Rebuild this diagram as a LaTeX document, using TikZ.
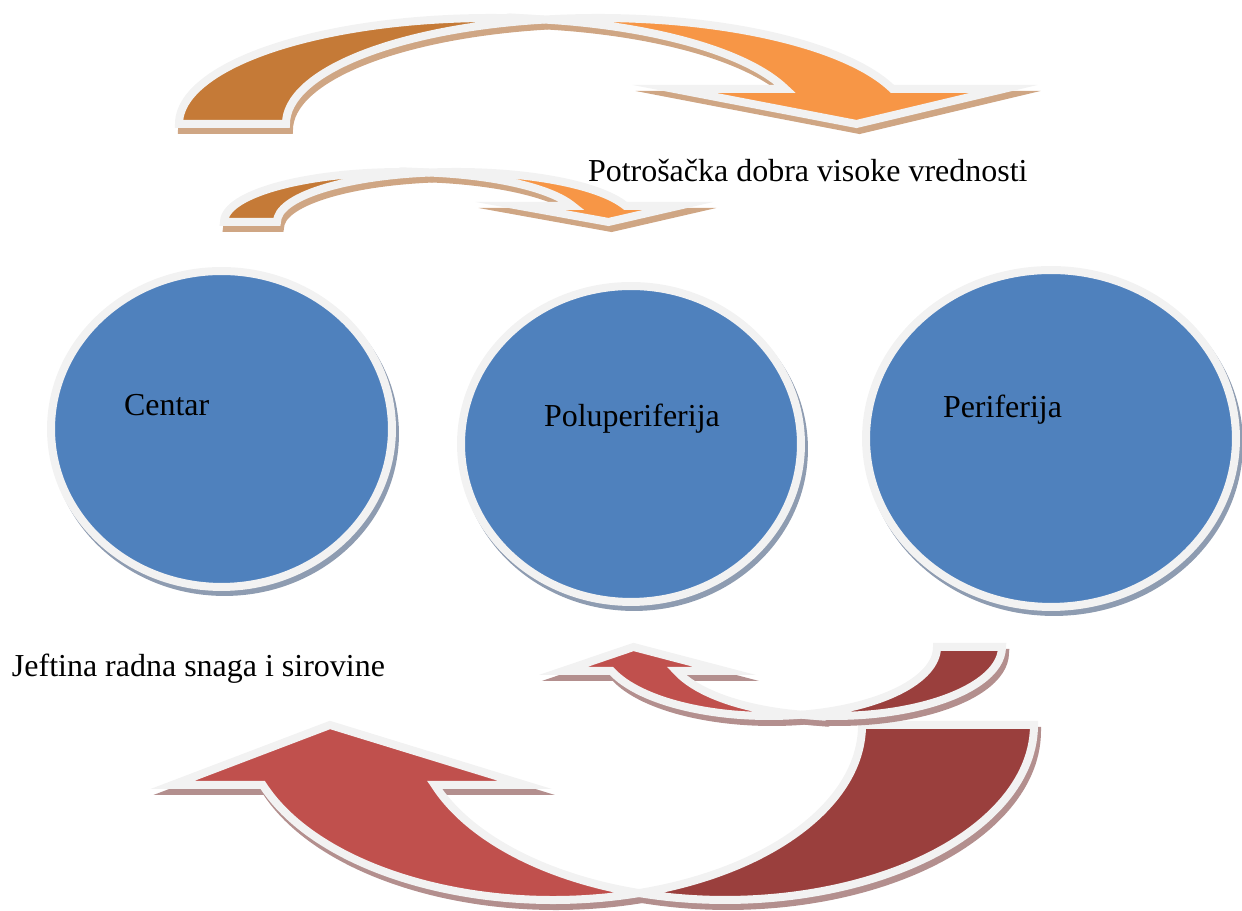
\documentclass[tikz,border=0pt]{standalone}
\usepackage{fontspec}
\setmainfont{Liberation Serif}
\usetikzlibrary{shapes.geometric}

\definecolor{rim}{HTML}{F2F2F2}
\definecolor{bluefill}{HTML}{4F81BD}
\definecolor{blueshade}{HTML}{8E9CB1}
\definecolor{orangedark}{HTML}{C57A37}
\definecolor{orangelight}{HTML}{F79646}
\definecolor{orangeshade}{HTML}{CFA684}
\definecolor{reddark}{HTML}{9A3F3D}
\definecolor{redlight}{HTML}{C0504D}
\definecolor{redshade}{HTML}{B38F8E}

% bent arrow: #1 placement, #2 x radius, #3 y radius, #4 band, #5 head width, #6 head length,
% #7 back colour, #8 front colour, #9 shadow colour
\newcommand{\bentarrow}[9]{%
  \pgfmathsetmacro\cA{acos(#4/(2*#2))}%
  \pgfmathsetmacro\cB{180-\cA}%
  \pgfmathsetmacro\pA{asin(#6/#3)}%
  \pgfmathsetmacro\xL{#2+#2*cos(\pA)}%
  \pgfmathsetmacro\xR{\xL+#4}%
  \pgfmathsetmacro\hd{(#5-#4)/2}%
  \pgfmathsetmacro\xT{2*#2+#4/2}%
  \pgfmathsetmacro\xC{#2+#4/2}%
  \pgfmathsetmacro\yC{#3*sin(\cA)}%
  \foreach \sx/\sy/\colb/\colf/\colr in {3/-6/#9/#9/#9, 0/0/#7/#8/rim}{%
    \begin{scope}[shift={(\sx,\sy)}, #1]
      \filldraw[fill=\colb, draw=\colr] (0,0)
        arc[start angle=180, end angle=\cA, x radius=#2, y radius=#3]
        arc[start angle=\cB, end angle=180, x radius=#2, y radius=#3] -- cycle;
      \filldraw[fill=\colf, draw=\colr] (\xC,\yC)
        arc[start angle=\cB, end angle=\pA, x radius=#2, y radius=#3]
        -- (\xR+\hd,#6) -- (\xT,0) -- (\xL-\hd,#6) -- (\xL,#6)
        arc[start angle=\pA, end angle=\cA, x radius=#2, y radius=#3] -- cycle;
    \end{scope}}%
}

\begin{document}
\begin{tikzpicture}[x=0.02cm,y=0.02cm,line width=0.16cm,miter limit=12,
      blob node/.style={ellipse,draw=rim,fill=bluefill,inner sep=0pt},
      shade node/.style={ellipse,draw=blueshade,fill=blueshade,inner sep=0pt},
      text node/.style={font=\fontsize{18.2pt}{22pt}\selectfont,inner sep=0pt,anchor=base west}]
 \useasboundingbox (0,0) rectangle (1242,911);

 % arrows on top
 \bentarrow{shift={(179,787)}}{312}{106}{107}{329}{35}{orangedark}{orangelight}{orangeshade}
 \bentarrow{shift={(224,689)}}{179}{50}{53}{158}{16}{orangedark}{orangelight}{orangeshade}

 % the three zones
 \node[shade node, minimum width=6.82cm, minimum height=6.32cm] (centarsh) at (224.5,477) {};
 \node[blob node, minimum width=6.82cm, minimum height=6.32cm] (centar) at (221.5,482) {};
 \node[shade node, minimum width=6.8cm, minimum height=6.32cm] (polush) at (634,462) {};
 \node[blob node, minimum width=6.8cm, minimum height=6.32cm] (polu) at (631,467) {};
 \node[shade node, minimum width=7.4cm, minimum height=6.74cm] (perish) at (1054,467.5) {};
 \node[blob node, minimum width=7.4cm, minimum height=6.74cm] (peri) at (1051,472.5) {};

 % arrows below
 \bentarrow{shift={(1034,186)},rotate=180}{309}{175}{172}{353}{60}{reddark}{redlight}{redshade}
 \bentarrow{shift={(1002,264)},rotate=180}{168}{69}{65}{162}{24}{reddark}{redlight}{redshade}

 \node[text node] (tcentar) at (120,495) {Centar};
 \node[text node] (tpolu) at (540,484) {Poluperiferija};
 \node[text node] (tperi) at (939,493) {Periferija};
 \node[text node] (tgoods) at (584,729) {Potrošačka dobra visoke vrednosti};
 \node[text node] (tlabour) at (8,234) {Jeftina radna snaga i sirovine};
\end{tikzpicture}
\end{document}
